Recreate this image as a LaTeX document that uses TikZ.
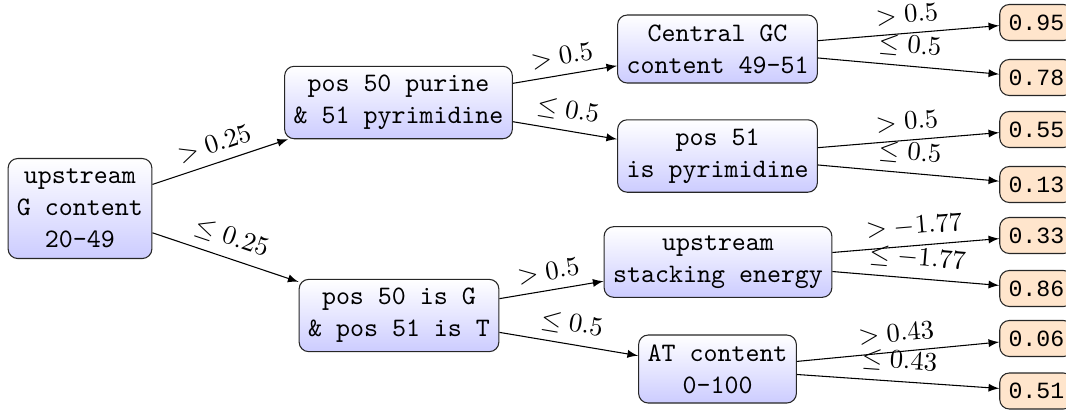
\documentclass[tikz,border=0pt]{standalone}
\usepackage{fontspec}
\newfontfamily\leaffamily{Liberation Mono}
\begin{document}
\begin{tikzpicture}[x=0.375pt,y=-0.375pt,
  inner/.style={draw=black!85, rounded corners=3.6pt, top color=white, bottom color=blue!20,
    font=\ttfamily, align=center, minimum height=25.5pt, inner sep=3.33pt},
  leaf/.style={draw=black!85, rounded corners=3.6pt, fill=orange!20,
    font=\leaffamily\fontsize{8.7}{10}\selectfont, minimum height=13.5pt, inner sep=3.3pt},
  arr/.style={-latex},
  lbl/.style={sloped, above, midway}]
\useasboundingbox (0,0) rectangle (1066,410);
\node[inner, minimum height=37.5pt] (root) at (80,208.5) {upstream\\G content\\20-49};
\node[inner] (pur) at (398.5,102.5) {pos 50 purine\\\& 51 pyrimidine};
\node[inner] (isg) at (399,315.5) {pos 50 is G\\\& pos 51 is T};
\node[inner] (cgc) at (717.5,49) {Central GC\\content 49-51};
\node[inner] (p51) at (717.5,156) {pos 51\\is pyrimidine};
\node[inner] (use) at (718,262) {upstream\\stacking energy};
\node[inner] (atc) at (717.5,369) {AT content\\0-100};
\node[leaf] (l1) at (1036.4,22.5) {0.95};
\node[leaf] (l2) at (1036.4,77.5) {0.78};
\node[leaf] (l3) at (1036.4,129.5) {0.55};
\node[leaf] (l4) at (1036.4,184.5) {0.13};
\node[leaf] (l5) at (1036.4,235.5) {0.33};
\node[leaf] (l6) at (1036.4,288.5) {0.86};
\node[leaf] (l7) at (1036.4,338.5) {0.06};
\node[leaf] (l8) at (1036.4,391) {0.51};
\draw[arr] (root) -- node[lbl] {$> 0.25$} (pur);
\draw[arr] (root) -- node[lbl] {$\leq 0.25$} (isg);
\draw[arr] (pur) -- node[lbl] {$> 0.5$} (cgc);
\draw[arr] (pur) -- node[lbl] {$\leq 0.5$} (p51);
\draw[arr] (isg) -- node[lbl] {$> 0.5$} (use);
\draw[arr] (isg) -- node[lbl] {$\leq 0.5$} (atc);
\draw[arr] (cgc) -- node[lbl] {$> 0.5$} (l1);
\draw[arr] (cgc) -- node[lbl] {$\leq 0.5$} (l2);
\draw[arr] (p51) -- node[lbl] {$> 0.5$} (l3);
\draw[arr] (p51) -- node[lbl] {$\leq 0.5$} (l4);
\draw[arr] (use) -- node[lbl] {$> -1.77$} (l5);
\draw[arr] (use) -- node[lbl] {$\leq -1.77$} (l6);
\draw[arr] (atc) -- node[lbl] {$> 0.43$} (l7);
\draw[arr] (atc) -- node[lbl] {$\leq 0.43$} (l8);
\end{tikzpicture}
\end{document}
